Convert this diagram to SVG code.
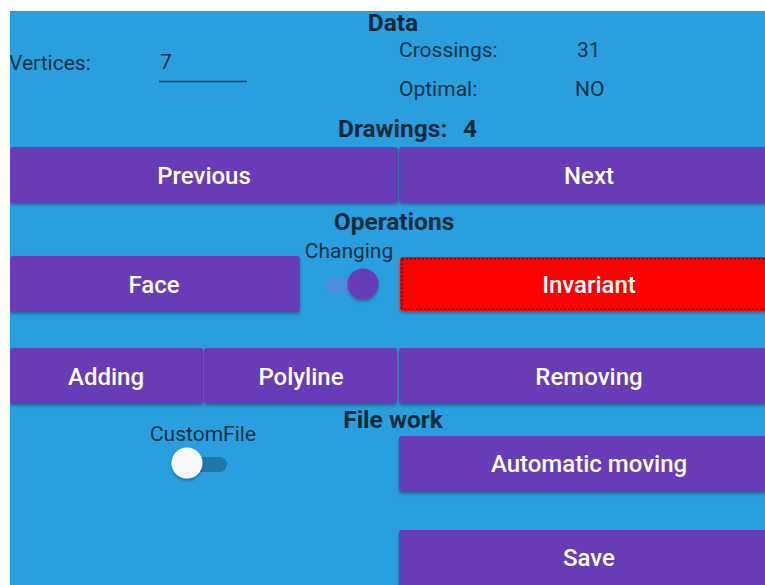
<svg xmlns="http://www.w3.org/2000/svg" width="765" height="585" viewBox="0 0 765 585">
<defs>
<filter id="sh" x="-5%" y="-20%" width="110%" height="150%">
<feDropShadow dx="0" dy="2" stdDeviation="1.5" flood-color="#000" flood-opacity="0.3"/>
</filter>
<style>
.btn{fill:#673AB7;filter:url(#sh)}
.bt{font-family:Roboto,"Liberation Sans",sans-serif;font-weight:500;font-size:24px;fill:#fff;text-anchor:middle}
.h{font-family:Roboto,"Liberation Sans",sans-serif;font-weight:700;font-size:24.5px;fill:#0f2a3d;text-anchor:middle}
.hs{font-family:Roboto,"Liberation Sans",sans-serif;font-weight:700;font-size:24.5px;fill:#0f2a3d}
.t{font-family:Roboto,"Liberation Sans",sans-serif;font-size:21px;fill:#10324a}
.tc{font-family:Roboto,"Liberation Sans",sans-serif;font-size:21px;fill:#10324a;text-anchor:middle}
</style>
</defs>
<rect x="0" y="0" width="765" height="585" fill="#fff"/>
<rect x="10" y="11" width="755" height="574" fill="#299FDD"/>
<g id="data">
<text class="h" x="393" y="31">Data</text>
<text class="t" x="9" y="70">Vertices:</text>
<text class="t" x="160" y="69">7</text>
<line x1="159" y1="81.5" x2="247" y2="81.5" stroke="#1c4a66" stroke-width="1.5"/>
<text class="t" x="399" y="57">Crossings:</text>
<text class="t" x="577" y="57">31</text>
<text class="t" x="399" y="96">Optimal:</text>
<text class="t" x="575" y="96">NO</text>
<text class="hs" x="338" y="137">Drawings:</text>
<text class="hs" x="463" y="137">4</text>
</g>
<g id="previous"><rect class="btn" x="10" y="147" width="388" height="56" rx="3"/><text class="bt" x="204" y="184">Previous</text></g>
<g id="next"><rect class="btn" x="399" y="147" width="370" height="56" rx="3"/><text class="bt" x="589" y="184">Next</text></g>
<g id="operations"><text class="h" x="394" y="230">Operations</text></g>
<g id="face"><rect class="btn" x="10" y="256" width="290" height="56" rx="3"/><text class="bt" x="154" y="293">Face</text></g>
<g id="changing">
<text class="tc" x="349" y="258">Changing</text>
<rect x="325" y="277" width="44" height="16" rx="8" fill="#4A8FE0"/>
<circle cx="363" cy="284" r="15.5" fill="#673AB7" filter="url(#sh)"/>
</g>
<g id="invariant"><rect x="400" y="257" width="369" height="54" rx="3" fill="#FF0000" filter="url(#sh)"/>
<rect x="402" y="259" width="367" height="50" fill="none" stroke="#1a1a1a" stroke-width="1.5" stroke-dasharray="1.5,2.5"/>
<text class="bt" x="589" y="293">Invariant</text></g>
<g id="adding"><rect class="btn" x="10" y="348" width="193" height="56" rx="3"/><text class="bt" x="106" y="385">Adding</text></g>
<g id="polyline"><rect class="btn" x="204" y="348" width="193" height="56" rx="3"/><text class="bt" x="301" y="385">Polyline</text></g>
<g id="removing"><rect class="btn" x="399" y="348" width="370" height="56" rx="3"/><text class="bt" x="589" y="385">Removing</text></g>
<g id="filework"><text class="h" x="393" y="428">File work</text></g>
<g id="customfile">
<text class="tc" x="203" y="441">CustomFile</text>
<rect x="180" y="457" width="47" height="15" rx="7.5" fill="#1F78A8"/>
<circle cx="187" cy="463" r="15.5" fill="#FAFAFA" filter="url(#sh)"/>
</g>
<g id="automatic"><rect class="btn" x="399" y="436" width="370" height="56" rx="3"/><text class="bt" x="589" y="472">Automatic moving</text></g>
<g id="save"><rect class="btn" x="399" y="530" width="370" height="60" rx="3"/><text class="bt" x="589" y="566">Save</text></g>
<g id="connectors"/>
<rect x="0" y="0" width="10" height="585" fill="#fff"/>
</svg>
